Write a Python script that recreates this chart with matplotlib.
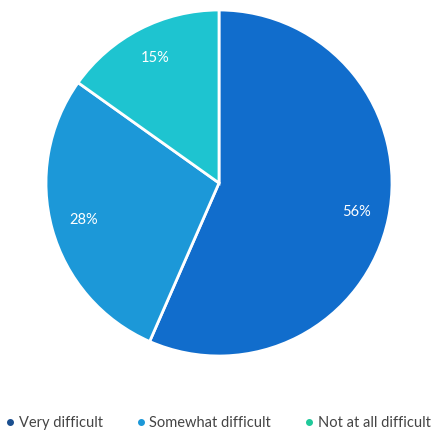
import matplotlib
matplotlib.use("Agg")
import matplotlib.pyplot as plt
from matplotlib.lines import Line2D

categories = ["Very difficult", "Somewhat difficult", "Not at all difficult"]
values = [56, 28, 15]
slice_colors = ["#116dcc", "#1c98d8", "#1ec4d0"]
legend_colors = ["#1b4f8f", "#1c98d8", "#1fc99a"]

plt.rcParams['font.family'] = ['Lato', 'DejaVu Sans']

W, H = 435, 438
fig = plt.figure(figsize=(W/100, H/100), dpi=100)
cx, cy, r = 219, 183, 173
ax = fig.add_axes([(cx - r)/W, (H - cy - r)/H, 2*r/W, 2*r/H])

wedges, texts, autotexts = ax.pie(
    values, colors=slice_colors, startangle=90, counterclock=False,
    autopct=lambda p: f"{p*sum(values)/100:.0f}%", pctdistance=0.81,
    wedgeprops=dict(edgecolor="white", linewidth=2),
    textprops=dict(color="white", fontsize=10.5))
ax.set_aspect('equal')
ax.set_xlim(-1, 1)
ax.set_ylim(-1, 1)
ax.axis('off')

handles = [Line2D([0], [0], marker='o', linestyle='', markersize=4,
                  markerfacecolor=c, markeredgecolor=c) for c in legend_colors]
fig.legend(handles, categories, loc='center', bbox_to_anchor=(0.5, 1 - 423/H),
           ncol=3, frameon=False, fontsize=10.5, handletextpad=0.2,
           columnspacing=2.2, handlelength=0.8, labelcolor="#444444")

fig.savefig("out.png", dpi=100)
